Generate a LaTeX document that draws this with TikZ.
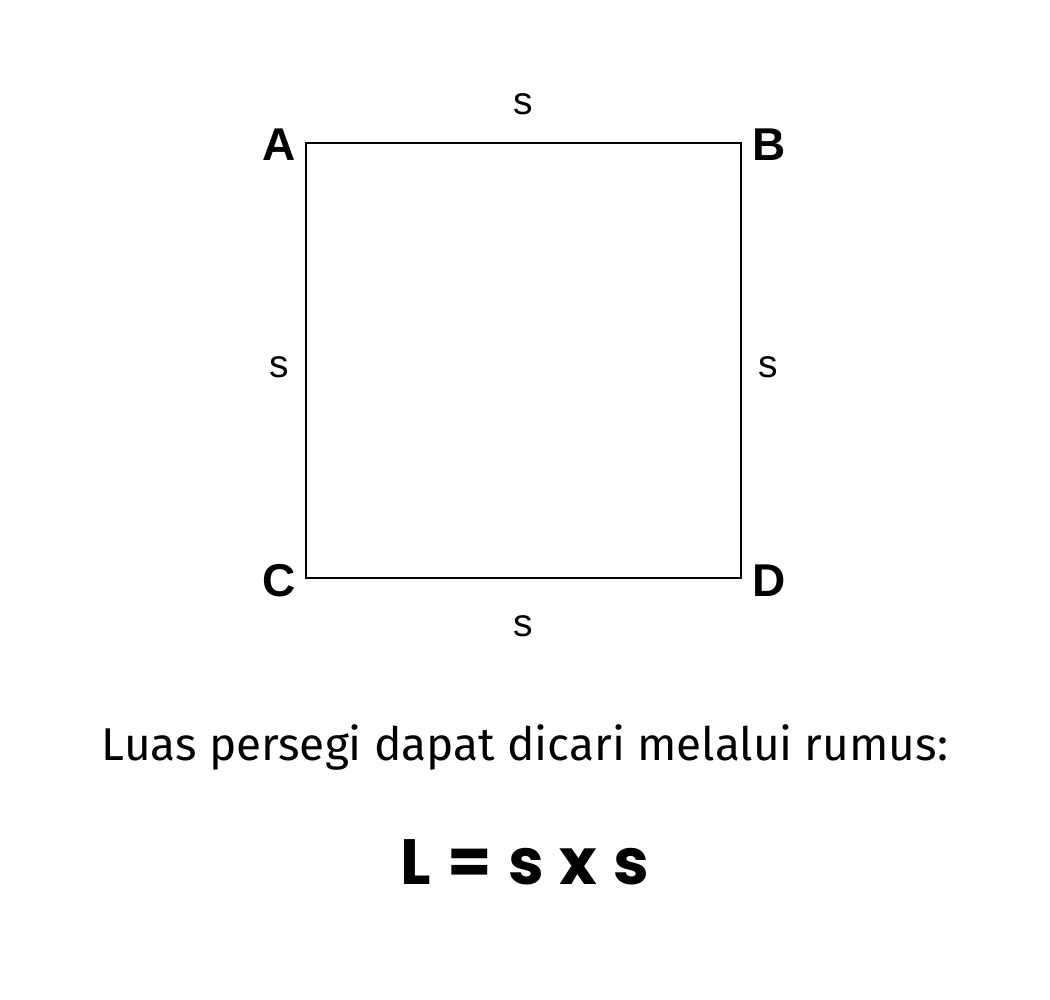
\documentclass[tikz,border=0pt]{standalone}
\usepackage{fontspec}
\setmainfont{Liberation Sans}
\newfontfamily\sentfont{Fira Sans}
\newfontfamily\formfont{Poppins}[UprightFont=* Bold]
\begin{document}
\begin{tikzpicture}[x=1pt,y=-1pt,
  vlabel/.style={font=\fontsize{46}{50}\selectfont\bfseries,inner sep=0pt},
  slabel/.style={font=\fontsize{39}{44}\selectfont,inner sep=0pt},
  sq/.style={line width=1.6pt}]
\useasboundingbox[fill=white] (0,0) rectangle (1050,1000);
\coordinate (pA) at (306,143);
\coordinate (pB) at (741,143);
\coordinate (pC) at (306,578);
\coordinate (pD) at (741,578);
\draw[sq] (pA) -- (pB) -- (pD) -- (pC) -- cycle;
\node[vlabel] (A) at (279,145) {A};
\node[vlabel] (B) at (769,145) {B};
\node[vlabel] (C) at (279,581) {C};
\node[vlabel] (D) at (769,581) {D};
\node[slabel] (st) at (523,104) {s};
\node[slabel] (sl) at (279,367) {s};
\node[slabel] (sr) at (768,367) {s};
\node[slabel] (sb) at (523,626) {s};
\node[inner sep=0pt,font=\sentfont\fontsize{46}{50}\selectfont] (txt) at (525,747) {Luas persegi dapat dicari melalui rumus:};
\node[inner sep=0pt,font=\formfont\fontsize{64}{70}\selectfont] (f) at (525,862) {L~\hspace{2.5pt}=~\hspace{2.5pt}s~\hspace{2.5pt}x~\hspace{2.5pt}s};
\end{tikzpicture}
\end{document}
